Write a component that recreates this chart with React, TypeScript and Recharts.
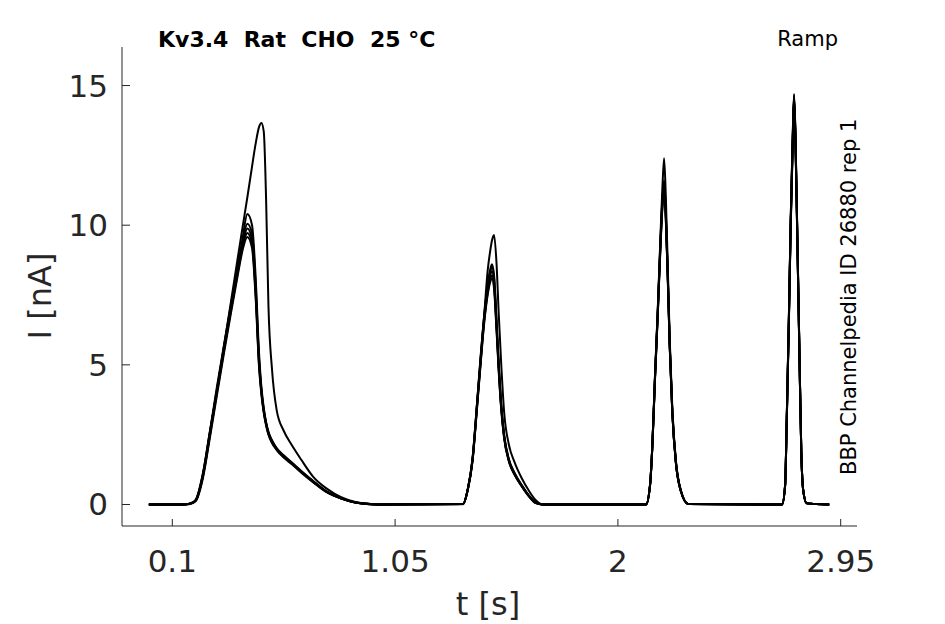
import { LineChart, Line, XAxis, YAxis } from "recharts";

// sample times (s), shared by all sweeps
const TIME = [
  0, 0.15, 0.18, 0.2, 0.23, 0.26, 0.29, 0.32, 0.35, 0.38, 0.4, 0.42, 0.44, 0.455, 0.47, 0.48, 0.49, 0.5, 0.51, 0.525,
  0.545, 0.575, 0.61, 0.65, 0.7, 0.76, 0.82, 0.88, 0.95, 1.0,
  1.34, 1.36, 1.38, 1.4, 1.415, 1.43, 1.445, 1.455, 1.463, 1.472, 1.482, 1.492, 1.502, 1.515, 1.535, 1.56, 1.59, 1.62,
  1.65, 1.68,
  2.12, 2.137, 2.147, 2.158, 2.17, 2.181, 2.19, 2.197, 2.204, 2.213, 2.221, 2.232, 2.247, 2.268, 2.3,
  2.7, 2.713, 2.72, 2.729, 2.737, 2.745, 2.751, 2.757, 2.765, 2.774, 2.782, 2.791, 2.805, 2.901,
];

// current (nA) per sweep
const SWEEP_A = [
  0, 0, 0.05, 0.16, 1.05, 2.6, 4.05, 5.65, 7.25, 8.88, 9.95, 11.0, 12.1, 12.9, 13.52, 13.66, 13.35, 10.9, 7.1, 4.85,
  3.38, 2.64, 2.12, 1.6, 1.0, 0.56, 0.26, 0.09, 0.02, 0,
  0.02, 0.55, 1.65, 3.7, 5.35, 6.8, 8.4, 9.05, 9.45, 9.65, 8.7, 6.8, 5.1, 3.3, 2.15, 1.5, 0.94, 0.5, 0.15, 0,
  0, 0.7, 2.15, 4.6, 7.0, 9.5, 11.4, 12.4, 11.1, 8.4, 5.9, 3.45, 1.6, 0.52, 0.02,
  0, 0.7, 3.1, 6.7, 10.3, 13.1, 14.7, 13.3, 9.7, 5.5, 1.9, 0.46, 0.04, 0,
];
const SWEEP_B = [
  0, 0, 0.05, 0.17, 1.1, 2.6, 4.2, 5.7, 7.15, 8.55, 9.55, 10.4, 10.0, 8.2, 5.4, 4.2, 3.45, 2.95, 2.6, 2.3,
  2.02, 1.76, 1.5, 1.2, 0.85, 0.46, 0.23, 0.08, 0.01, 0,
  0.02, 0.56, 1.62, 3.68, 5.28, 6.78, 7.88, 8.4, 8.6, 8.2, 6.7, 5.02, 3.65, 2.5, 1.63, 1.12, 0.7, 0.33, 0.07, 0,
  0, 0.7, 2.14, 4.55, 6.95, 9.35, 11.0, 11.6, 10.55, 8.15, 5.75, 3.35, 1.55, 0.5, 0.02,
  0, 0.7, 3.09, 6.67, 10.25, 13.0, 14.65, 13.23, 9.65, 5.47, 1.89, 0.46, 0.04, 0,
];
const SWEEP_C = [
  0, 0, 0.05, 0.16, 1.05, 2.55, 4.1, 5.62, 7.08, 8.47, 9.4, 10.05, 9.7, 7.9, 5.2, 4.1, 3.4, 2.92, 2.58, 2.28,
  2.0, 1.74, 1.48, 1.18, 0.83, 0.45, 0.22, 0.07, 0.01, 0,
  0.02, 0.55, 1.6, 3.65, 5.23, 6.72, 7.8, 8.3, 8.5, 8.1, 6.6, 4.95, 3.6, 2.45, 1.6, 1.1, 0.68, 0.32, 0.06, 0,
  0, 0.7, 2.13, 4.52, 6.9, 9.29, 10.9, 11.5, 10.48, 8.1, 5.71, 3.32, 1.53, 0.5, 0.02,
  0, 0.69, 3.06, 6.62, 10.18, 12.92, 14.6, 13.18, 9.6, 5.44, 1.88, 0.45, 0.04, 0,
];
const SWEEP_D = [
  0, 0, 0.04, 0.15, 1.0, 2.5, 4.05, 5.55, 7.0, 8.4, 9.3, 9.88, 9.5, 7.75, 5.1, 4.05, 3.35, 2.88, 2.55, 2.25,
  1.98, 1.72, 1.47, 1.17, 0.82, 0.44, 0.22, 0.07, 0.01, 0,
  0.02, 0.54, 1.58, 3.6, 5.18, 6.65, 7.7, 8.18, 8.35, 7.95, 6.5, 4.88, 3.55, 2.42, 1.58, 1.08, 0.67, 0.31, 0.06, 0,
  0, 0.69, 2.12, 4.5, 6.86, 9.22, 10.8, 11.4, 10.4, 8.05, 5.68, 3.3, 1.52, 0.49, 0.02,
  0, 0.68, 3.03, 6.58, 10.12, 12.85, 14.55, 13.12, 9.56, 5.41, 1.87, 0.45, 0.04, 0,
];
const SWEEP_E = [
  0, 0, 0.04, 0.14, 0.98, 2.45, 4.0, 5.5, 6.95, 8.35, 9.22, 9.72, 9.33, 7.6, 5.0, 4.0, 3.32, 2.86, 2.53, 2.23,
  1.97, 1.7, 1.46, 1.16, 0.81, 0.44, 0.21, 0.07, 0.01, 0,
  0.02, 0.53, 1.56, 3.56, 5.12, 6.58, 7.6, 8.05, 8.2, 7.82, 6.4, 4.8, 3.5, 2.4, 1.57, 1.07, 0.66, 0.3, 0.05, 0,
  0, 0.68, 2.1, 4.47, 6.82, 9.16, 10.72, 11.3, 10.33, 8.0, 5.65, 3.28, 1.51, 0.49, 0.02,
  0, 0.68, 3.0, 6.54, 10.06, 12.78, 14.5, 13.06, 9.52, 5.38, 1.86, 0.45, 0.04, 0,
];
const SWEEP_F = [
  0, 0, 0.03, 0.12, 0.92, 2.38, 3.9, 5.4, 6.85, 8.25, 9.12, 9.58, 9.18, 7.45, 4.9, 3.92, 3.28, 2.83, 2.5, 2.2,
  1.95, 1.68, 1.44, 1.14, 0.8, 0.43, 0.21, 0.07, 0.01, 0,
  0.01, 0.52, 1.54, 3.52, 5.06, 6.5, 7.52, 7.95, 8.1, 7.72, 6.3, 4.74, 3.45, 2.36, 1.55, 1.05, 0.65, 0.3, 0.05, 0,
  0, 0.67, 2.08, 4.44, 6.78, 9.1, 10.65, 11.22, 10.26, 7.95, 5.62, 3.26, 1.5, 0.48, 0.02,
  0, 0.67, 2.98, 6.5, 10.0, 12.72, 14.45, 13.0, 9.48, 5.35, 1.85, 0.44, 0.04, 0,
];

const SWEEPS = [SWEEP_A, SWEEP_B, SWEEP_C, SWEEP_D, SWEEP_E, SWEEP_F];

const X_TICKS = [0.1, 1.05, 2, 2.95];
const X_TICK_LABELS = ["0.1", "1.05", "2", "2.95"];
const Y_TICKS = [0, 5, 10, 15];
const Y_TICK_LABELS = ["0", "5", "10", "15"];

const AXIS = "#262626";
const FONT = "'DejaVu Sans', sans-serif";

const data = TIME.map((t, i) => {
  const row: Record<string, number> = { t };
  SWEEPS.forEach((s, k) => {
    row[`s${k}`] = s[i];
  });
  return row;
});

function XTick({ x, y, payload }: any) {
  const idx = X_TICKS.indexOf(payload.value);
  return (
    <g>
      <line x1={x} x2={x} y1={y} y2={y - 7} stroke={AXIS} strokeWidth={1} />
      <text x={x} y={y + 46} textAnchor="middle" fontSize={31} fill={AXIS} fontFamily={FONT}>
        {X_TICK_LABELS[idx]}
      </text>
    </g>
  );
}

function YTick({ x, y, payload }: any) {
  const idx = Y_TICKS.indexOf(payload.value);
  return (
    <g>
      <line x1={x} x2={x + 8} y1={y} y2={y} stroke={AXIS} strokeWidth={1} />
      <text x={x - 14} y={y + 11} textAnchor="end" fontSize={31} fill={AXIS} fontFamily={FONT}>
        {Y_TICK_LABELS[idx]}
      </text>
    </g>
  );
}

export default function App() {
  return (
    <div style={{ position: "absolute", left: 0, top: 0, width: 945, height: 624, background: "#fff" }}>
      <LineChart width={945} height={624} data={data} margin={{ top: 47, right: 88, bottom: 0, left: 0 }}>
        <XAxis
          dataKey="t"
          type="number"
          domain={[-0.1145, 3.0195]}
          allowDataOverflow
          ticks={X_TICKS}
          interval={0}
          height={98}
          tickSize={0}
          tickMargin={0}
          tickLine={false}
          axisLine={{ stroke: AXIS, strokeWidth: 1 }}
          tick={<XTick />}
        />
        <YAxis
          type="number"
          domain={[-0.77, 16.38]}
          allowDataOverflow
          ticks={Y_TICKS}
          interval={0}
          width={122}
          tickSize={0}
          tickMargin={0}
          tickLine={false}
          axisLine={{ stroke: AXIS, strokeWidth: 1 }}
          tick={<YTick />}
        />
        {SWEEPS.map((_, k) => (
          <Line
            key={k}
            dataKey={`s${k}`}
            type="monotone"
            stroke="#000"
            strokeWidth={2}
            dot={false}
            activeDot={false}
            isAnimationActive={false}
          />
        ))}
      </LineChart>
      <svg
        width={945}
        height={624}
        style={{ position: "absolute", left: 0, top: 0, pointerEvents: "none" }}
        fontFamily={FONT}
      >
        <text x={158} y={47} fontSize={22} fontWeight="bold" fill="#000" style={{ whiteSpace: "pre" }}>
          {"Kv3.4  Rat  CHO  25 °C"}
        </text>
        <text x={838} y={46} fontSize={21} textAnchor="end" fill="#000">
          Ramp
        </text>
        <text x={856} y={475} fontSize={21} fill="#000" transform="rotate(-90 856 475)">
          BBP Channelpedia ID 26880 rep 1
        </text>
        <text x={488} y={615} fontSize={32} textAnchor="middle" fill={AXIS}>
          t [s]
        </text>
        <text x={51} y={296} fontSize={32} textAnchor="middle" fill={AXIS} transform="rotate(-90 51 296)">
          I [nA]
        </text>
      </svg>
    </div>
  );
}
